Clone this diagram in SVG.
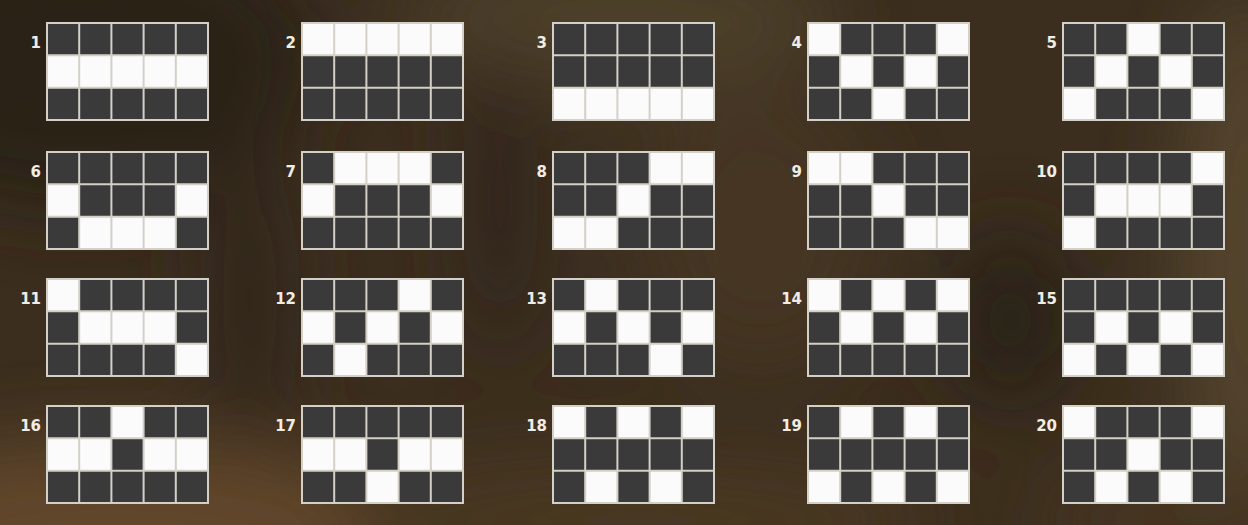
<svg xmlns="http://www.w3.org/2000/svg" xmlns:xlink="http://www.w3.org/1999/xlink" width="1248" height="525" viewBox="0 0 1248 525">
<style>
.lbl{font-family:"DejaVu Sans","Liberation Sans",sans-serif;font-weight:bold;font-size:15px;fill:#f1ede4;text-anchor:end}
.gl{fill:none;stroke:#d4d0c8;stroke-width:2}
</style>
<defs>
<filter id="blur" x="-20%" y="-20%" width="140%" height="140%"><feGaussianBlur stdDeviation="40"/></filter>
<rect id="wc" width="32.2" height="32.34" fill="#fbfbfb"/>
<rect id="box" width="161" height="97" fill="#3a3a3a"/>
<path id="lines" d="M0,0H161V97H0Z M32.2,0V97 M64.4,0V97 M96.6,0V97 M128.8,0V97 M0,32.33H161 M0,64.67H161"/>
</defs>
<rect x="0" y="0" width="1248" height="525" fill="#3b2e1e"/>
<g filter="url(#blur)">
<ellipse cx="80" cy="60" rx="240" ry="150" fill="#2a2119"/>
<ellipse cx="120" cy="530" rx="300" ry="90" fill="#62462a"/>
<ellipse cx="620" cy="20" rx="220" ry="70" fill="#4e4029"/>
<ellipse cx="1248" cy="250" rx="70" ry="260" fill="#54442d"/>
<ellipse cx="1010" cy="320" rx="70" ry="90" fill="#2b2117"/>
<ellipse cx="250" cy="300" rx="50" ry="160" fill="#33271b"/>
<ellipse cx="500" cy="200" rx="40" ry="160" fill="#33281b"/>
<ellipse cx="760" cy="230" rx="120" ry="140" fill="#443522"/>
<ellipse cx="640" cy="520" rx="300" ry="60" fill="#4a3822"/>
<ellipse cx="1160" cy="520" rx="120" ry="50" fill="#463420"/>
</g>
<g id="line1" transform="translate(47,23)"><use href="#box"/><use href="#wc" x="0" y="32.33"/><use href="#wc" x="32.2" y="32.33"/><use href="#wc" x="64.4" y="32.33"/><use href="#wc" x="96.6" y="32.33"/><use href="#wc" x="128.8" y="32.33"/><use href="#lines" class="gl"/><text class="lbl" x="-6" y="25">1</text></g>
<g id="line2" transform="translate(302,23)"><use href="#box"/><use href="#wc" x="0" y="0"/><use href="#wc" x="32.2" y="0"/><use href="#wc" x="64.4" y="0"/><use href="#wc" x="96.6" y="0"/><use href="#wc" x="128.8" y="0"/><use href="#lines" class="gl"/><text class="lbl" x="-6" y="25">2</text></g>
<g id="line3" transform="translate(553,23)"><use href="#box"/><use href="#wc" x="0" y="64.67"/><use href="#wc" x="32.2" y="64.67"/><use href="#wc" x="64.4" y="64.67"/><use href="#wc" x="96.6" y="64.67"/><use href="#wc" x="128.8" y="64.67"/><use href="#lines" class="gl"/><text class="lbl" x="-6" y="25">3</text></g>
<g id="line4" transform="translate(808,23)"><use href="#box"/><use href="#wc" x="0" y="0"/><use href="#wc" x="128.8" y="0"/><use href="#wc" x="32.2" y="32.33"/><use href="#wc" x="96.6" y="32.33"/><use href="#wc" x="64.4" y="64.67"/><use href="#lines" class="gl"/><text class="lbl" x="-6" y="25">4</text></g>
<g id="line5" transform="translate(1063,23)"><use href="#box"/><use href="#wc" x="64.4" y="0"/><use href="#wc" x="32.2" y="32.33"/><use href="#wc" x="96.6" y="32.33"/><use href="#wc" x="0" y="64.67"/><use href="#wc" x="128.8" y="64.67"/><use href="#lines" class="gl"/><text class="lbl" x="-6" y="25">5</text></g>
<g id="line6" transform="translate(47,152)"><use href="#box"/><use href="#wc" x="0" y="32.33"/><use href="#wc" x="128.8" y="32.33"/><use href="#wc" x="32.2" y="64.67"/><use href="#wc" x="64.4" y="64.67"/><use href="#wc" x="96.6" y="64.67"/><use href="#lines" class="gl"/><text class="lbl" x="-6" y="25">6</text></g>
<g id="line7" transform="translate(302,152)"><use href="#box"/><use href="#wc" x="32.2" y="0"/><use href="#wc" x="64.4" y="0"/><use href="#wc" x="96.6" y="0"/><use href="#wc" x="0" y="32.33"/><use href="#wc" x="128.8" y="32.33"/><use href="#lines" class="gl"/><text class="lbl" x="-6" y="25">7</text></g>
<g id="line8" transform="translate(553,152)"><use href="#box"/><use href="#wc" x="96.6" y="0"/><use href="#wc" x="128.8" y="0"/><use href="#wc" x="64.4" y="32.33"/><use href="#wc" x="0" y="64.67"/><use href="#wc" x="32.2" y="64.67"/><use href="#lines" class="gl"/><text class="lbl" x="-6" y="25">8</text></g>
<g id="line9" transform="translate(808,152)"><use href="#box"/><use href="#wc" x="0" y="0"/><use href="#wc" x="32.2" y="0"/><use href="#wc" x="64.4" y="32.33"/><use href="#wc" x="96.6" y="64.67"/><use href="#wc" x="128.8" y="64.67"/><use href="#lines" class="gl"/><text class="lbl" x="-6" y="25">9</text></g>
<g id="line10" transform="translate(1063,152)"><use href="#box"/><use href="#wc" x="128.8" y="0"/><use href="#wc" x="32.2" y="32.33"/><use href="#wc" x="64.4" y="32.33"/><use href="#wc" x="96.6" y="32.33"/><use href="#wc" x="0" y="64.67"/><use href="#lines" class="gl"/><text class="lbl" x="-6" y="25">10</text></g>
<g id="line11" transform="translate(47,279)"><use href="#box"/><use href="#wc" x="0" y="0"/><use href="#wc" x="32.2" y="32.33"/><use href="#wc" x="64.4" y="32.33"/><use href="#wc" x="96.6" y="32.33"/><use href="#wc" x="128.8" y="64.67"/><use href="#lines" class="gl"/><text class="lbl" x="-6" y="25">11</text></g>
<g id="line12" transform="translate(302,279)"><use href="#box"/><use href="#wc" x="96.6" y="0"/><use href="#wc" x="0" y="32.33"/><use href="#wc" x="64.4" y="32.33"/><use href="#wc" x="128.8" y="32.33"/><use href="#wc" x="32.2" y="64.67"/><use href="#lines" class="gl"/><text class="lbl" x="-6" y="25">12</text></g>
<g id="line13" transform="translate(553,279)"><use href="#box"/><use href="#wc" x="32.2" y="0"/><use href="#wc" x="0" y="32.33"/><use href="#wc" x="64.4" y="32.33"/><use href="#wc" x="128.8" y="32.33"/><use href="#wc" x="96.6" y="64.67"/><use href="#lines" class="gl"/><text class="lbl" x="-6" y="25">13</text></g>
<g id="line14" transform="translate(808,279)"><use href="#box"/><use href="#wc" x="0" y="0"/><use href="#wc" x="64.4" y="0"/><use href="#wc" x="128.8" y="0"/><use href="#wc" x="32.2" y="32.33"/><use href="#wc" x="96.6" y="32.33"/><use href="#lines" class="gl"/><text class="lbl" x="-6" y="25">14</text></g>
<g id="line15" transform="translate(1063,279)"><use href="#box"/><use href="#wc" x="32.2" y="32.33"/><use href="#wc" x="96.6" y="32.33"/><use href="#wc" x="0" y="64.67"/><use href="#wc" x="64.4" y="64.67"/><use href="#wc" x="128.8" y="64.67"/><use href="#lines" class="gl"/><text class="lbl" x="-6" y="25">15</text></g>
<g id="line16" transform="translate(47,406)"><use href="#box"/><use href="#wc" x="64.4" y="0"/><use href="#wc" x="0" y="32.33"/><use href="#wc" x="32.2" y="32.33"/><use href="#wc" x="96.6" y="32.33"/><use href="#wc" x="128.8" y="32.33"/><use href="#lines" class="gl"/><text class="lbl" x="-6" y="25">16</text></g>
<g id="line17" transform="translate(302,406)"><use href="#box"/><use href="#wc" x="0" y="32.33"/><use href="#wc" x="32.2" y="32.33"/><use href="#wc" x="96.6" y="32.33"/><use href="#wc" x="128.8" y="32.33"/><use href="#wc" x="64.4" y="64.67"/><use href="#lines" class="gl"/><text class="lbl" x="-6" y="25">17</text></g>
<g id="line18" transform="translate(553,406)"><use href="#box"/><use href="#wc" x="0" y="0"/><use href="#wc" x="64.4" y="0"/><use href="#wc" x="128.8" y="0"/><use href="#wc" x="32.2" y="64.67"/><use href="#wc" x="96.6" y="64.67"/><use href="#lines" class="gl"/><text class="lbl" x="-6" y="25">18</text></g>
<g id="line19" transform="translate(808,406)"><use href="#box"/><use href="#wc" x="32.2" y="0"/><use href="#wc" x="96.6" y="0"/><use href="#wc" x="0" y="64.67"/><use href="#wc" x="64.4" y="64.67"/><use href="#wc" x="128.8" y="64.67"/><use href="#lines" class="gl"/><text class="lbl" x="-6" y="25">19</text></g>
<g id="line20" transform="translate(1063,406)"><use href="#box"/><use href="#wc" x="0" y="0"/><use href="#wc" x="128.8" y="0"/><use href="#wc" x="64.4" y="32.33"/><use href="#wc" x="32.2" y="64.67"/><use href="#wc" x="96.6" y="64.67"/><use href="#lines" class="gl"/><text class="lbl" x="-6" y="25">20</text></g>
<g id="connectors"/>
</svg>
